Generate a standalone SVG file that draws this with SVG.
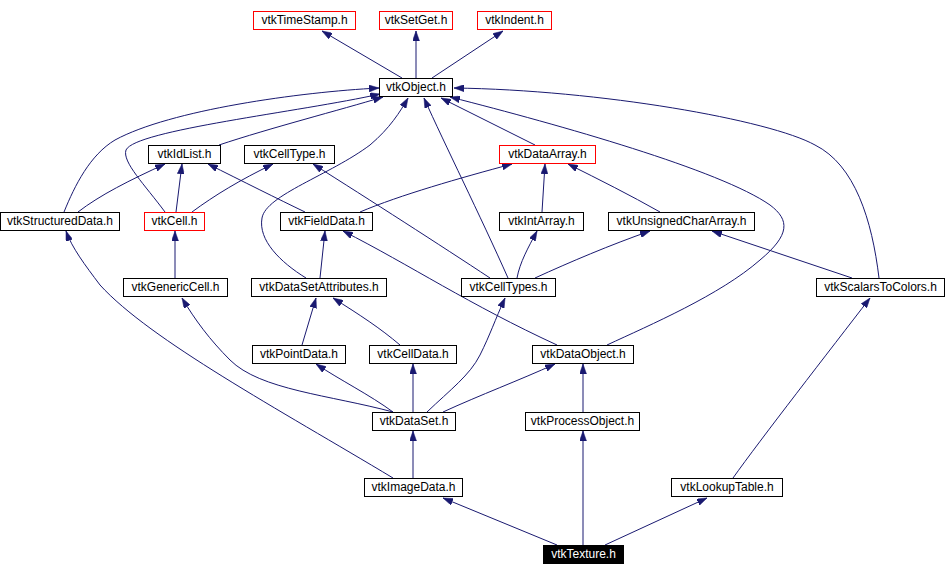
<svg xmlns="http://www.w3.org/2000/svg" width="946" height="576" viewBox="0 0 946 576">
<style>
.n rect{fill:#fff;stroke:#000;stroke-width:1}
.n.r rect{stroke:#f00}
.n.k rect{fill:#000}
.n text{font-family:"Liberation Sans",Arial,sans-serif;font-size:12px;fill:#000;text-anchor:middle}
.n.k text{fill:#fff}
.e path{fill:none;stroke:#191970;stroke-width:1;marker-end:url(#a)}
</style>
<defs>
<marker id="a" viewBox="0 0 10 7" markerWidth="10" markerHeight="7" refX="10" refY="3.5" orient="auto" markerUnits="userSpaceOnUse">
<path d="M0,0 L10,3.5 L0,7 z" fill="#191970" stroke="#191970" stroke-width="0.5"/>
</marker>
</defs>
<rect width="946" height="576" fill="#fff"/>
<g id="edges" class="e">
<path d="M402,78 L322,31"/>
<path d="M416,78 L416,31"/>
<path d="M432,78 L503,31"/>
<path d="M64,212 C75,185 90,155 115,140 C170,110 300,92 379,88"/>
<path d="M165,212 C145,185 122,162 126,150 C135,130 300,112 380,94"/>
<path d="M219,145 C270,128 340,110 383,97"/>
<path d="M306,278 C280,262 258,240 262,218 C266,195 330,175 370,145 C390,128 400,112 408,98"/>
<path d="M508,278 C480,215 445,145 424,98"/>
<path d="M535,145 L441,98"/>
<path d="M607,345 C650,325 720,295 760,260 C790,235 790,220 770,205 C720,170 560,125 450,97"/>
<path d="M879,278 C872,220 855,165 815,145 C770,120 600,90 454,88"/>
<path d="M78,212 C100,195 130,180 165,164"/>
<path d="M176,212 L182,164"/>
<path d="M192,212 C215,195 240,180 273,164"/>
<path d="M305,212 C280,200 240,180 208,164"/>
<path d="M360,212 C400,195 460,178 512,164"/>
<path d="M490,278 C440,245 370,200 313,164"/>
<path d="M542,212 L545,164"/>
<path d="M660,212 C630,195 600,180 568,164"/>
<path d="M517,278 C520,262 528,248 537,231"/>
<path d="M535,278 C570,262 610,245 650,231"/>
<path d="M852,278 L712,231"/>
<path d="M175,278 L175,231"/>
<path d="M320,278 L325,231"/>
<path d="M557,345 C470,305 410,265 343,231"/>
<path d="M302,345 L316,298"/>
<path d="M400,345 C380,328 360,315 333,298"/>
<path d="M393,412 C330,395 260,390 230,360 C210,340 195,320 182,298"/>
<path d="M393,412 C370,395 340,380 316,364"/>
<path d="M413,412 L413,364"/>
<path d="M427,412 C450,390 470,375 480,355 C490,335 495,320 505,298"/>
<path d="M443,412 C480,395 520,380 555,364"/>
<path d="M583,412 L583,364"/>
<path d="M413,478 L413,431"/>
<path d="M393,478 C280,410 150,340 100,285 C85,265 72,248 66,231"/>
<path d="M557,545 L443,498"/>
<path d="M583,545 L583,431"/>
<path d="M605,545 L707,498"/>
<path d="M733,478 C760,440 830,350 870,298"/>
</g>
<g id="vtkTimeStamp" class="n r"><rect x="253.5" y="11.5" width="102" height="18"/><text x="304.5" y="24">vtkTimeStamp.h</text></g>
<g id="vtkSetGet" class="n r"><rect x="379.5" y="11.5" width="73" height="18"/><text x="416" y="24">vtkSetGet.h</text></g>
<g id="vtkIndent" class="n r"><rect x="477.5" y="11.5" width="74" height="18"/><text x="514.5" y="24">vtkIndent.h</text></g>
<g id="vtkObject" class="n"><rect x="379.5" y="78.5" width="73" height="18"/><text x="416" y="91">vtkObject.h</text></g>
<g id="vtkIdList" class="n"><rect x="148.5" y="145.5" width="72" height="18"/><text x="184.5" y="158">vtkIdList.h</text></g>
<g id="vtkCellType" class="n"><rect x="244.5" y="145.5" width="90" height="18"/><text x="289.5" y="158">vtkCellType.h</text></g>
<g id="vtkDataArray" class="n r"><rect x="499.5" y="145.5" width="96" height="18"/><text x="547.5" y="158">vtkDataArray.h</text></g>
<g id="vtkStructuredData" class="n"><rect x="0.5" y="212.5" width="119" height="18"/><text x="60" y="225">vtkStructuredData.h</text></g>
<g id="vtkCell" class="n r"><rect x="144.5" y="212.5" width="60" height="18"/><text x="174.5" y="225">vtkCell.h</text></g>
<g id="vtkFieldData" class="n"><rect x="280.5" y="212.5" width="92" height="18"/><text x="326.5" y="225">vtkFieldData.h</text></g>
<g id="vtkIntArray" class="n"><rect x="499.5" y="212.5" width="84" height="18"/><text x="541.5" y="225">vtkIntArray.h</text></g>
<g id="vtkUnsignedCharArray" class="n"><rect x="608.5" y="212.5" width="146" height="18"/><text x="681.5" y="225">vtkUnsignedCharArray.h</text></g>
<g id="vtkGenericCell" class="n"><rect x="123.5" y="278.5" width="104" height="18"/><text x="175.5" y="291">vtkGenericCell.h</text></g>
<g id="vtkDataSetAttributes" class="n"><rect x="251.5" y="278.5" width="135" height="18"/><text x="319" y="291">vtkDataSetAttributes.h</text></g>
<g id="vtkCellTypes" class="n"><rect x="461.5" y="278.5" width="94" height="18"/><text x="508.5" y="291">vtkCellTypes.h</text></g>
<g id="vtkScalarsToColors" class="n"><rect x="816.5" y="278.5" width="128" height="18"/><text x="880.5" y="291">vtkScalarsToColors.h</text></g>
<g id="vtkPointData" class="n"><rect x="252.5" y="345.5" width="93" height="18"/><text x="299" y="358">vtkPointData.h</text></g>
<g id="vtkCellData" class="n"><rect x="369.5" y="345.5" width="87" height="18"/><text x="413" y="358">vtkCellData.h</text></g>
<g id="vtkDataObject" class="n"><rect x="532.5" y="345.5" width="101" height="18"/><text x="583" y="358">vtkDataObject.h</text></g>
<g id="vtkDataSet" class="n"><rect x="372.5" y="412.5" width="83" height="18"/><text x="414" y="425">vtkDataSet.h</text></g>
<g id="vtkProcessObject" class="n"><rect x="525.5" y="412.5" width="114" height="18"/><text x="582.5" y="425">vtkProcessObject.h</text></g>
<g id="vtkImageData" class="n"><rect x="364.5" y="478.5" width="98" height="18"/><text x="413.5" y="491">vtkImageData.h</text></g>
<g id="vtkLookupTable" class="n"><rect x="671.5" y="478.5" width="111" height="18"/><text x="727" y="491">vtkLookupTable.h</text></g>
<g id="vtkTexture" class="n k"><rect x="543.5" y="545.5" width="80" height="18"/><text x="583.5" y="558">vtkTexture.h</text></g>
</svg>
